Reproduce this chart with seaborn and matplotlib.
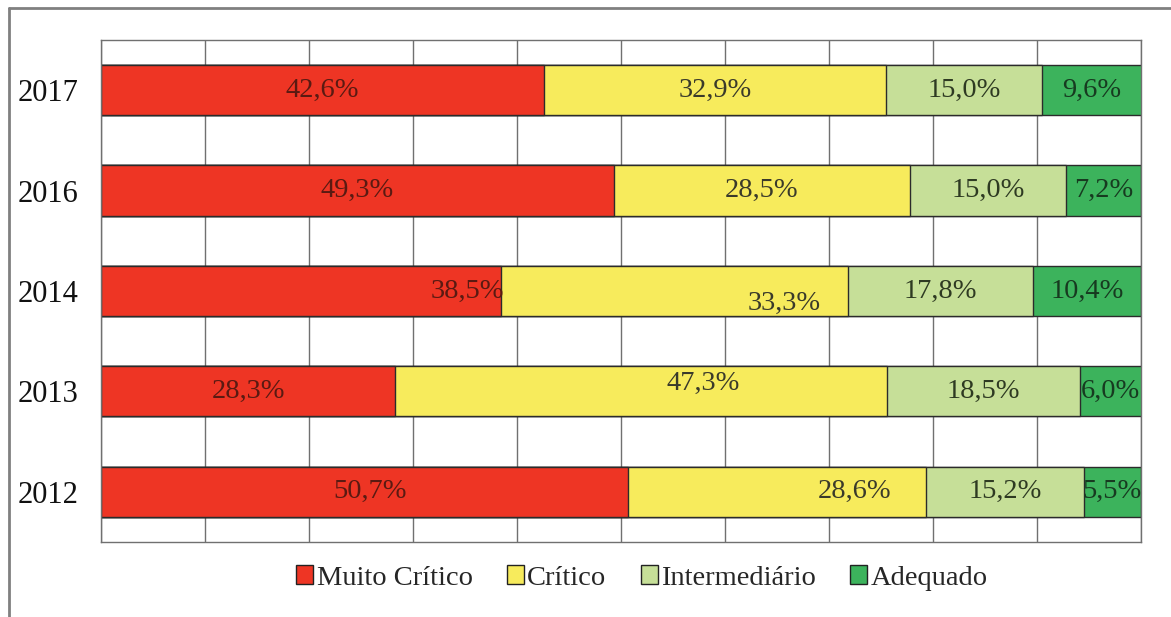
import matplotlib
matplotlib.use("Agg")
import matplotlib.pyplot as plt
from matplotlib.lines import Line2D
from matplotlib.patches import Patch
import seaborn as sns
import pandas as pd
import numpy as np

anos = ["2017", "2016", "2014", "2013", "2012"]
categorias = ["Muito Crítico", "Crítico", "Intermediário", "Adequado"]
muito_critico = [42.6, 49.3, 38.5, 28.3, 50.7]
critico = [32.9, 28.5, 33.3, 47.3, 28.6]
intermediario = [15.0, 15.0, 17.8, 18.5, 15.2]
adequado = [9.6, 7.2, 10.4, 6.0, 5.5]

cores = ["#ee3524", "#f7eb5c", "#c6df98", "#3cb35c"]
cores_texto = ["#5a1a12", "#3a3a2a", "#2e3a22", "#173a20"]

# small nudges of some labels (x in % units, y in category units) as in the original
ajustes = {
    ("2014", 0): (16.0, 0.0),
    ("2014", 1): (10.5, 0.12),
    ("2013", 1): (6.0, -0.08),
    ("2012", 0): (0.5, 0.0),
    ("2012", 1): (7.5, 0.0),
}

sns.set_style("white")
plt.rcParams["font.family"] = ["Liberation Serif", "DejaVu Serif"]

df = pd.DataFrame({
    "ano": anos,
    "Muito Crítico": muito_critico,
    "Crítico": critico,
    "Intermediário": intermediario,
    "Adequado": adequado,
})
acum = df[categorias].cumsum(axis=1)

fig = plt.figure(figsize=(11.71, 6.17), dpi=100)
ax = fig.add_axes([101 / 1171, 1 - 542 / 617, 1040 / 1171, 502 / 617])

for i in reversed(range(len(categorias))):
    sns.barplot(x=acum[categorias[i]], y=df["ano"], order=anos, orient="h",
                color=cores[i], edgecolor="#2b2b2b", linewidth=1.0,
                width=0.5, saturation=1, ax=ax)

for j, ano in enumerate(anos):
    inicio = 0
    for i, cat in enumerate(categorias):
        v = df.loc[j, cat]
        dx, dy = ajustes.get((ano, i), (0, 0))
        ax.text(inicio + v / 2 + dx, j + dy, f"{v:.1f}%".replace(".", ","),
                ha="center", va="center", fontsize=20.5, color=cores_texto[i])
        inicio += v

ax.set_xlim(0, 100)
ax.set_ylim(4.5, -0.5)
ax.set_xticks(np.arange(0, 101, 10))
ax.set_xticklabels([])
ax.tick_params(axis="x", length=0)
ax.xaxis.grid(True, color="#707070", linewidth=1.0)
ax.set_axisbelow(True)
ax.set_yticks(range(len(anos)))
ax.set_yticklabels(anos, fontsize=22, color="#111111")
ax.set_yticks(np.arange(-0.5, 4.6, 1), minor=True)
ax.tick_params(axis="y", which="major", length=0, pad=16)
ax.tick_params(axis="y", which="minor", length=8, color="#555555", width=1)
ax.set_xlabel("")
ax.set_ylabel("")
for s in ax.spines.values():
    s.set_color("#707070")
    s.set_linewidth(1.0)

handles = [Patch(facecolor=c, edgecolor="#222222", linewidth=1.0) for c in cores]
fig.legend(handles, categorias, loc="center", bbox_to_anchor=(642 / 1171, 1 - 578 / 617),
           ncol=4, frameon=False, fontsize=20.5, handlelength=0.6, handleheight=0.6,
           handletextpad=0.12, columnspacing=1.2)

# outer frame of the original picture
fig.add_artist(Line2D([9 / 1171, 9 / 1171], [0, 1 - 8 / 617], transform=fig.transFigure,
                      color="#808080", linewidth=2))
fig.add_artist(Line2D([9 / 1171, 1], [1 - 8 / 617, 1 - 8 / 617], transform=fig.transFigure,
                      color="#808080", linewidth=2))

fig.savefig("out.png", dpi=100)
plt.close(fig)
